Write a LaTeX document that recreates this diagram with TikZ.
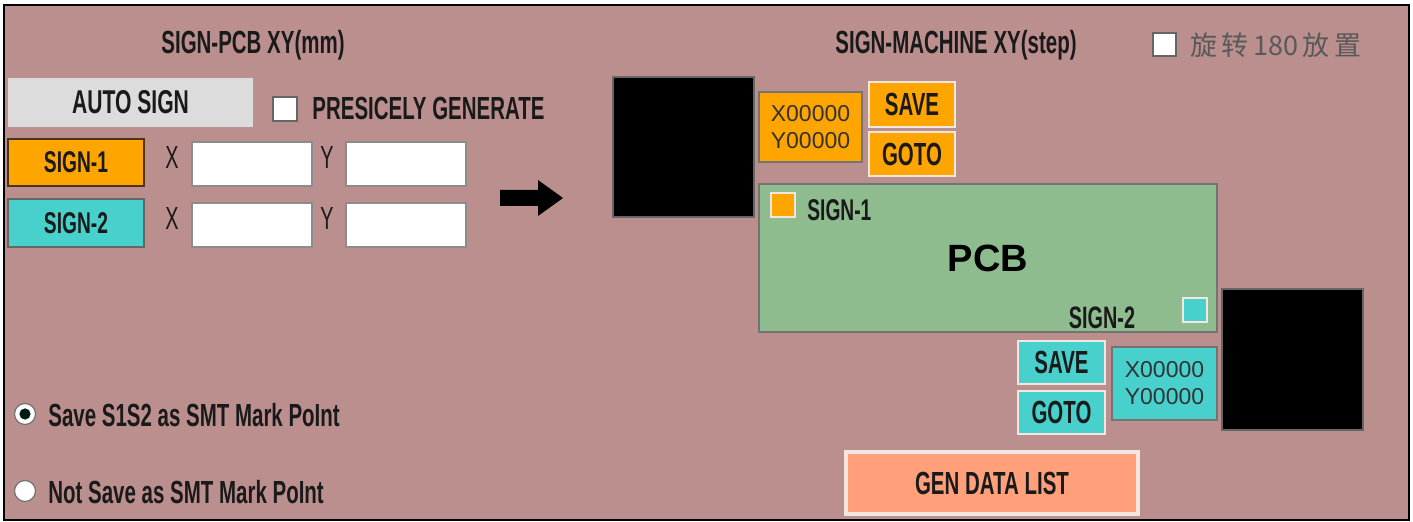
\documentclass[tikz,border=0pt]{standalone}
\usepackage{fontspec}
\setmainfont{Liberation Sans}
\newfontfamily\cond[FakeStretch=0.62]{Liberation Sans}
\newfontfamily\condb[FakeStretch=0.64]{Liberation Sans Bold}
\newfontfamily\cjk{Noto Sans CJK SC}
\definecolor{bgrose}{HTML}{BC8F8F}
\definecolor{pcbgreen}{HTML}{8FBC8F}
\definecolor{orng}{HTML}{FFA500}
\definecolor{cyn}{HTML}{48D1CC}
\definecolor{salm}{HTML}{FFA07A}
\definecolor{gains}{HTML}{DCDCDC}
\definecolor{ink}{HTML}{1A1A1A}
\definecolor{lightedge}{HTML}{F2E6E0}
\tikzset{
  lbl/.style={inner sep=0pt, text=ink, font=\condb\fontsize{16}{18}\selectfont},
  box/.style={inner sep=0pt, draw=#1, line width=0.6pt},
  btn/.style={inner sep=0pt, line width=1.2pt, draw=lightedge, text=ink, font=\condb\fontsize{16}{18}\selectfont},
  inputbox/.style={inner sep=0pt, fill=white, draw=black!45, line width=0.6pt},
  coordbox/.style={inner sep=0pt, draw=black!55, line width=0.6pt, align=left, text=black!80,
                   font=\fontsize{11.5}{13.5}\selectfont},
  blk/.style={inner sep=0pt, fill=black, draw=black!60, line width=0.6pt},
  chk/.style={inner sep=0pt, fill=white, draw=black!60, line width=0.6pt, minimum width=12pt, minimum height=12pt},
  signmark/.style={inner sep=0pt, draw=lightedge, line width=1pt, minimum width=12pt, minimum height=12pt},
  radio/.style={circle, inner sep=0pt, minimum size=10.5pt, fill=white, draw=black!55, line width=0.6pt},
}
\begin{document}
\begin{tikzpicture}[x=0.5pt, y=-0.5pt]
\useasboundingbox (0,0) rectangle (1413,522);
\fill[white] (0,0) rectangle (1413,522);
\draw[fill=bgrose, line width=1.2pt] (4,5) rectangle (1409,520);

% left panel
\node[lbl] (t1) at (253,45) {SIGN-PCB XY(mm)};
\node[inner sep=0pt, fill=gains, minimum width=122.5pt, minimum height=24.5pt, text=ink,
      font=\condb\fontsize{16.5}{18}\selectfont] (auto) at (130.5,102.5) {AUTO SIGN};
\node[chk] (chk1) at (285,109) {};
\node[lbl, anchor=west] (presc) at (312,108) {PRESICELY GENERATE};

\node[box=black!60!brown, fill=orng, minimum width=68pt, minimum height=23.5pt, text=ink,
      font=\condb\fontsize{15}{17}\selectfont] (s1) at (76,162.5) {SIGN-1};
\node[box=black!60, fill=cyn, minimum width=68pt, minimum height=24pt, text=ink,
      font=\condb\fontsize{15}{17}\selectfont] (s2) at (76,223) {SIGN-2};

\node[lbl, font=\cond\fontsize{16}{18}\selectfont] (x1) at (172,158) {X};
\node[inputbox, minimum width=60pt, minimum height=22pt] (x1in) at (252,164) {};
\node[lbl, font=\cond\fontsize{16}{18}\selectfont] (y1) at (327,158) {Y};
\node[inputbox, minimum width=60pt, minimum height=22pt] (y1in) at (406,164) {};
\node[lbl, font=\cond\fontsize{16}{18}\selectfont] (x2) at (172,218) {X};
\node[inputbox, minimum width=60pt, minimum height=22pt] (x2in) at (252,225) {};
\node[lbl, font=\cond\fontsize{16}{18}\selectfont] (y2) at (327,218) {Y};
\node[inputbox, minimum width=60pt, minimum height=22pt] (y2in) at (406,225) {};

\fill[black] (500,190) -- (538,190) -- (538,180) -- (563,198) -- (538,216) -- (538,206) -- (500,206) -- cycle;

\node[radio] (r1) at (25,414) {};
\fill[black!80!teal] (r1.center) circle (2.8pt);
\node[lbl, anchor=west] (r1t) at (48,415) {Save S1S2 as SMT Mark PoInt};
\node[radio] (r2) at (25,491) {};
\node[lbl, anchor=west] (r2t) at (48,492) {Not Save as SMT Mark PoInt};

% right panel
\node[lbl] (t2) at (956,45) {SIGN-MACHINE XY(step)};
\node[chk, minimum width=11.5pt, minimum height=11.5pt] (chk2) at (1164.5,44.5) {};
\node[inner sep=0pt, anchor=west, text=black!65, font=\cjk\fontsize{13.5}{16}\selectfont] (rot) at (1190,45) {旋\,转\,180\,放\,置};

\node[blk, minimum width=70.5pt, minimum height=70pt] (bl) at (683.5,147) {};
\node[coordbox, fill=orng, minimum width=51.5pt, minimum height=35pt] (c1) at (810.5,127) {X00000\\Y00000};
\node[btn, fill=orng, minimum width=43pt, minimum height=22.5pt] (sv1) at (912,104.5) {SAVE};
\node[btn, fill=orng, minimum width=43pt, minimum height=22pt] (gt1) at (912,154) {GOTO};

\node[box=black!55, fill=pcbgreen, minimum width=229pt, minimum height=74pt] (pcb) at (988,258) {};
\node[inner sep=0pt, font=\bfseries\fontsize{19}{21}\selectfont, text=black] (pcbt) at (988,258) {PCB};
\node[signmark, fill=orng] (m1) at (782.5,205) {};
\node[lbl, anchor=west, font=\condb\fontsize{15}{17}\selectfont] (m1t) at (807,210) {SIGN-1};
\node[signmark, fill=cyn] (m2) at (1195,310.5) {};
\node[lbl, font=\condb\fontsize{15.5}{17}\selectfont] (m2t) at (1102,318) {SIGN-2};

\node[blk, minimum width=70.5pt, minimum height=70.5pt] (br) at (1292.5,359.5) {};
\node[btn, fill=cyn, minimum width=43.5pt, minimum height=21.5pt] (sv2) at (1061.5,362.5) {SAVE};
\node[btn, fill=cyn, minimum width=43.5pt, minimum height=21.5pt] (gt2) at (1061.5,412.5) {GOTO};
\node[coordbox, fill=cyn, minimum width=52.5pt, minimum height=36.5pt] (c2) at (1164.5,383.5) {X00000\\Y00000};

\node[btn, line width=1.6pt, fill=salm, minimum width=146pt, minimum height=31pt] (gen) at (992,483) {GEN DATA LIST};
\end{tikzpicture}
\end{document}
